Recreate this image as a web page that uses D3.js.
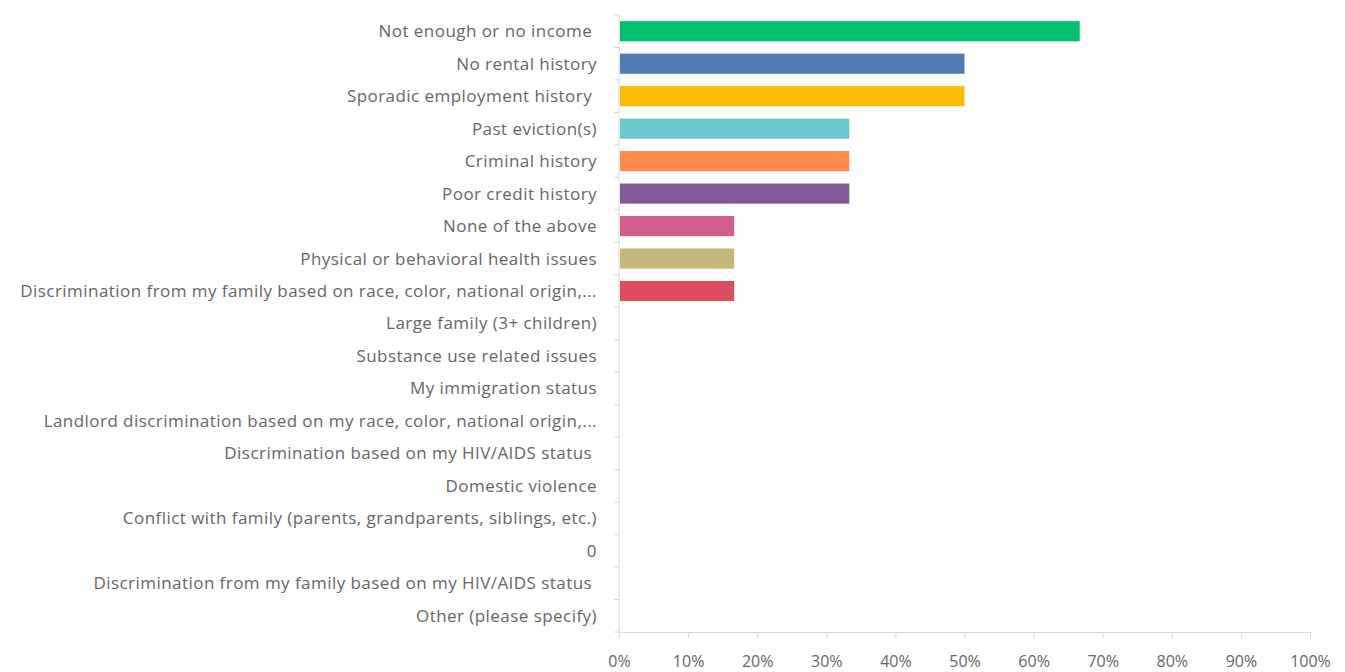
<!DOCTYPE html>
<html>
<head>
  <style>
    body {
      margin: 0;
      background: white;
    }
    text {
      font-family: "Open Sans", "Liberation Sans", sans-serif;
    }
  </style>
</head>
<body>
  <div id="chart"></div>
  <script src="https://d3js.org/d3.v7.min.js"></script>
  <script>
  // answers, in the order shown (top to bottom); trailing spaces are in the original labels
  const categories = [
    "Not enough or no income ",
    "No rental history",
    "Sporadic employment history ",
    "Past eviction(s)",
    "Criminal history",
    "Poor credit history",
    "None of the above",
    "Physical or behavioral health issues",
    "Discrimination from my family based on race, color, national origin,...",
    "Large family (3+ children)",
    "Substance use related issues",
    "My immigration status",
    "Landlord discrimination based on my race, color, national origin,...",
    "Discrimination based on my HIV/AIDS status ",
    "Domestic violence",
    "Conflict with family (parents, grandparents, siblings, etc.)",
    "0",
    "Discrimination from my family based on my HIV/AIDS status ",
    "Other (please specify)"
  ];

  // share of respondents, in percent
  const values = [66.67, 50, 50, 33.33, 33.33, 33.33, 16.67, 16.67, 16.67, 0, 0, 0, 0, 0, 0, 0, 0, 0, 0];

  const barColors = [
    "#00bf6f", "#507cb6", "#f9be00", "#6bc8cd", "#ff8b4f", "#7f5a96",
    "#d25f90", "#c7b879", "#db4d5c", "#00bf6f", "#507cb6", "#f9be00",
    "#6bc8cd", "#ff8b4f", "#7f5a96", "#d25f90", "#c7b879", "#db4d5c", "#00bf6f"
  ];

  const xTicks = [0, 10, 20, 30, 40, 50, 60, 70, 80, 90, 100];

  const W = 1345, H = 672;
  const margin = {top: 15, right: 35, bottom: 40, left: 619};

  const svg = d3.select("#chart")
    .append("svg")
      .attr("width", W)
      .attr("height", H);

  const x = d3.scaleLinear()
    .domain([0, 100])
    .range([margin.left, W - margin.right]);

  const y = d3.scaleBand()
    .domain(categories)
    .range([margin.top, H - margin.bottom])
    .paddingInner(0.38)
    .paddingOuter(0.19);

  // bars
  svg.append("g")
    .selectAll("rect")
    .data(values)
    .join("rect")
      .attr("x", x(0) + 1)
      .attr("y", (d, i) => y(categories[i]))
      .attr("width", d => Math.max(0, x(d) - x(0) - 1))
      .attr("height", y.bandwidth())
      .attr("fill", (d, i) => barColors[i]);

  // y axis: band boundaries get the little tick marks, like Excel
  const yAxis = svg.append("g");
  yAxis.append("line")
    .attr("x1", x(0)).attr("x2", x(0))
    .attr("y1", margin.top).attr("y2", H - margin.bottom)
    .attr("stroke", "#d9d9d9");
  const step = y.step();
  yAxis.selectAll("line.tick")
    .data(d3.range(categories.length + 1))
    .join("line")
      .attr("class", "tick")
      .attr("x1", x(0) - 5).attr("x2", x(0))
      .attr("y1", i => margin.top + i * step)
      .attr("y2", i => margin.top + i * step)
      .attr("stroke", "#d9d9d9");
  yAxis.selectAll("text")
    .data(categories)
    .join("text")
      .attr("x", x(0) - 22)
      .attr("y", d => y(d) + y.bandwidth() / 2)
      .attr("dy", "0.35em")
      .attr("text-anchor", "end")
      .attr("fill", "#666")
      .attr("font-size", 17)
      .attr("letter-spacing", 0.45)
      .style("white-space", "pre")
      .text(d => d);

  // x axis
  const xAxis = svg.append("g")
    .attr("transform", `translate(0,${H - margin.bottom})`)
    .call(d3.axisBottom(x).tickValues(xTicks).tickSize(6).tickPadding(18).tickFormat(d => d + "%"));
  xAxis.select(".domain").attr("stroke", "#d9d9d9");
  xAxis.selectAll(".tick line").attr("stroke", "#d9d9d9");
  xAxis.selectAll(".tick text")
    .attr("fill", "#666")
    .attr("font-size", 16)
    .attr("font-family", "Open Sans, sans-serif");
  </script>
</body>
</html>
